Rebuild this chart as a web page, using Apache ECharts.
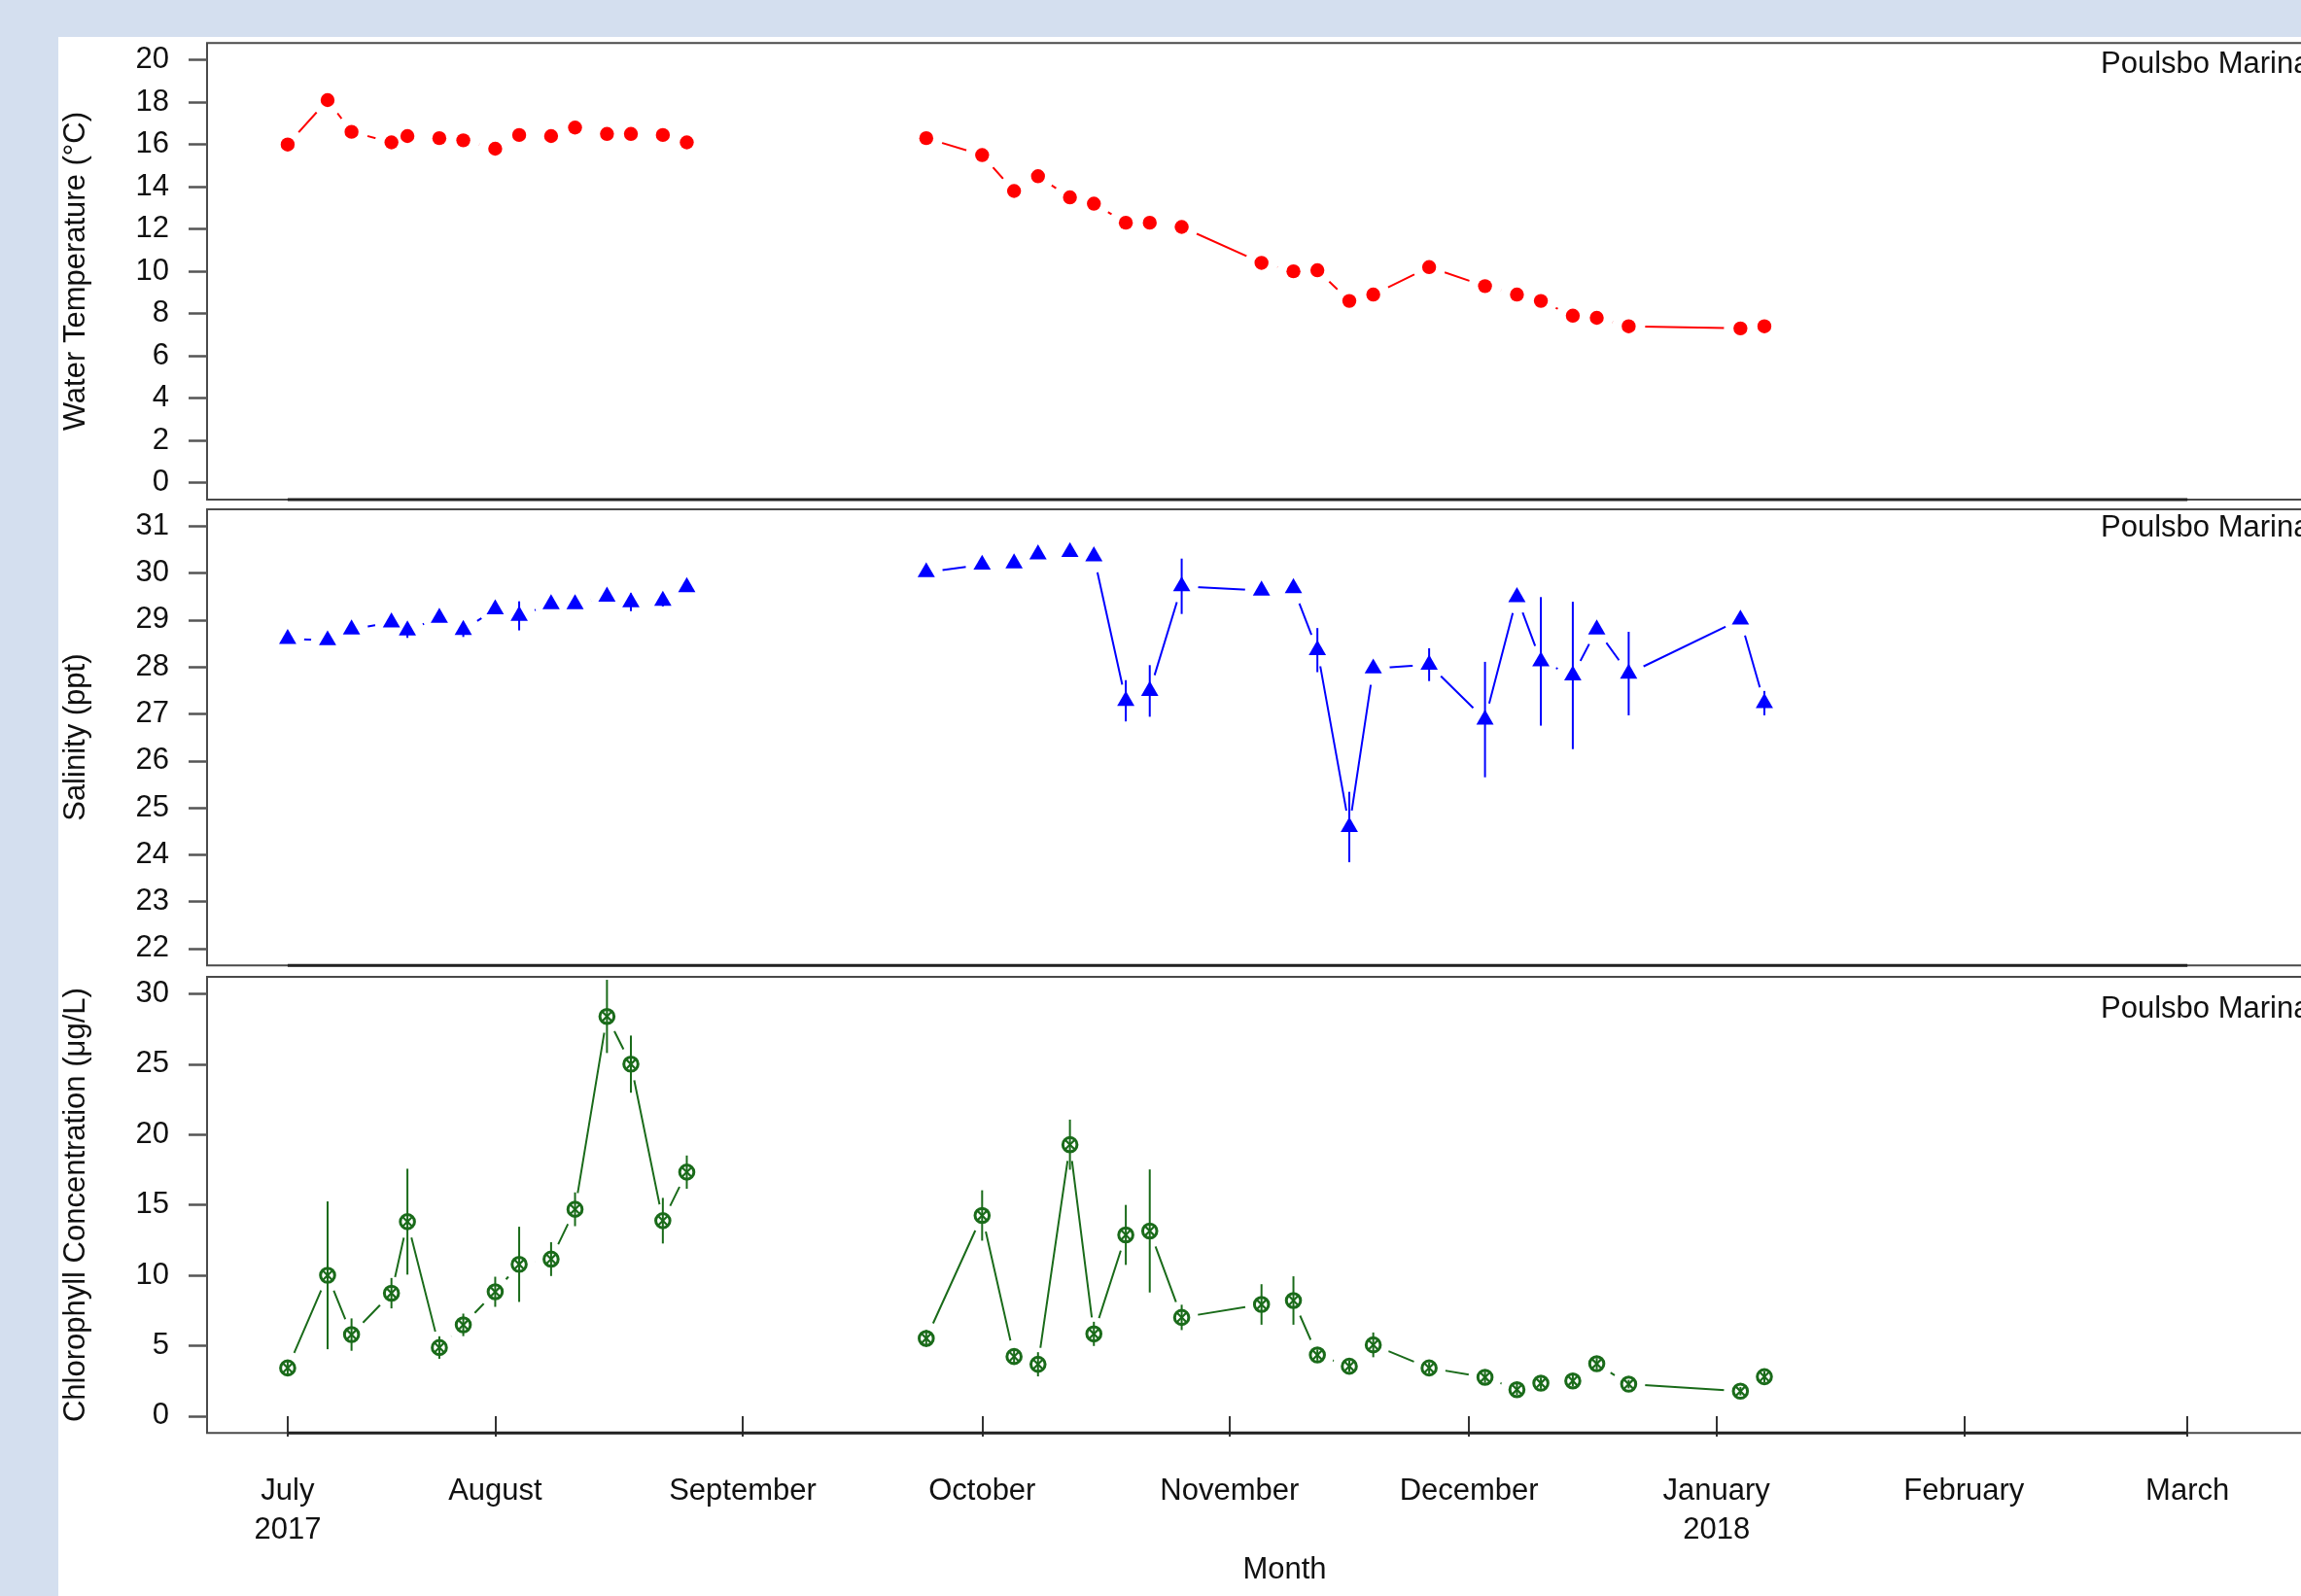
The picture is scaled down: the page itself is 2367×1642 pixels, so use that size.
<!DOCTYPE html>
<html>
<head>
<meta charset="utf-8">
<script src="https://cdn.jsdelivr.net/npm/echarts@6/dist/echarts.min.js"></script>
<style>
  html, body { margin: 0; padding: 0; width: 2367px; height: 1642px; overflow: hidden; background: #d4dfef; }
  #sheet { position: absolute; left: 60px; top: 38px; width: 2307px; height: 1604px; background: #fff; }
  #chart { position: absolute; left: 0; top: 0; width: 2367px; height: 1642px; }
</style>
</head>
<body>
<div id="sheet"></div>
<div id="chart"></div>
<script>
// sampling dates (both field seasons share the same dates for all three variables)
const sampleDates = [
  '2017-07-06', '2017-07-11', '2017-07-14', '2017-07-19', '2017-07-21', '2017-07-25', '2017-07-28',
  '2017-08-01', '2017-08-04', '2017-08-08', '2017-08-11', '2017-08-15', '2017-08-18', '2017-08-22', '2017-08-25',
  '2017-09-24', '2017-10-01', '2017-10-05', '2017-10-08', '2017-10-12', '2017-10-15', '2017-10-19', '2017-10-22',
  '2017-10-26', '2017-11-05', '2017-11-09', '2017-11-12', '2017-11-16', '2017-11-19', '2017-11-26', '2017-12-03',
  '2017-12-07', '2017-12-10', '2017-12-14', '2017-12-17', '2017-12-21', '2018-01-04', '2018-01-07'
];

const temperature = [
  16.0, 18.1, 16.6, 16.1, 16.4, 16.3, 16.2, 15.8, 16.45, 16.4, 16.8, 16.5, 16.5, 16.45, 16.1,
  16.3, 15.5, 13.8, 14.5, 13.5, 13.2, 12.3, 12.3, 12.1, 10.4, 10.0, 10.05, 8.6, 8.9, 10.2,
  9.3, 8.9, 8.6, 7.9, 7.8, 7.4, 7.3, 7.4
];

const salinity = [
  28.6, 28.57, 28.8, 28.95, 28.78, 29.05, 28.79, 29.23, 29.09, 29.34, 29.34, 29.5, 29.38, 29.41, 29.7,
  30.02, 30.18, 30.21, 30.4, 30.45, 30.36, 27.28, 27.49, 29.72, 29.63, 29.68, 28.36, 24.59, 27.97, 28.05,
  26.88, 29.49, 28.12, 27.82, 28.8, 27.86, 29.01, 27.23
];
const salinitySd = [
  0, 0, 0, 0, 0.16, 0, 0.15, 0, 0.31, 0, 0, 0, 0.19, 0.12, 0,
  0, 0, 0, 0, 0, 0, 0.44, 0.55, 0.59, 0, 0, 0.47, 0.75, 0, 0.35,
  1.23, 0, 1.37, 1.57, 0, 0.89, 0, 0.26
];

const chlorophyll = [
  3.42, 10.0, 5.79, 8.73, 13.81, 4.87, 6.48, 8.83, 10.78, 11.15, 14.69, 28.39, 25.0, 13.88, 17.33,
  5.52, 14.25, 4.23, 3.68, 19.28, 5.84, 12.87, 13.15, 7.01, 7.93, 8.21, 4.34, 3.54, 5.06, 3.42,
  2.76, 1.88, 2.34, 2.5, 3.72, 2.27, 1.77, 2.8
];
const chlorophyllSd = [
  0.5, 5.25, 1.15, 1.08, 3.76, 0.8, 0.8, 1.07, 2.67, 1.2, 1.2, 2.6, 2.03, 1.62, 1.18,
  0.6, 1.79, 0.5, 0.86, 1.78, 0.86, 2.13, 4.37, 0.9, 1.44, 1.72, 0.4, 0.4, 0.88, 0.4,
  0.4, 0.4, 0.4, 0.4, 0.4, 0.3, 0.3, 0.4
];

const monthTickDates = ['2017-07-06', '2017-08-01', '2017-09-01', '2017-10-01', '2017-11-01',
  '2017-12-01', '2018-01-01', '2018-02-01', '2018-03-01'];
const monthTickLabels = ['July\n2017', 'August', 'September', 'October', 'November',
  'December', 'January\n2018', 'February', 'March'];

const temperatureTicks = [0, 2, 4, 6, 8, 10, 12, 14, 16, 18, 20];
const salinityTicks = [22, 23, 24, 25, 26, 27, 28, 29, 30, 31];
const chlorophyllTicks = [0, 5, 10, 15, 20, 25, 30];

const siteName = 'Poulsbo Marina';

const fontFamily = '"Liberation Sans", Arial, Helvetica, sans-serif';
const DAY = 86400000;
const toTime = d => Date.parse(d + 'T00:00:00Z');
const origin = toTime('2017-07-01');
const xMin = origin - 5.1 * DAY;
const xMax = origin + 264.9 * DAY;
const monthTicks = monthTickDates.map(toTime);

// line data with a break across the September sampling gap
const lineData = values => {
  const out = [];
  values.forEach((v, i) => {
    const t = toTime(sampleDates[i]);
    if (i > 0 && t - toTime(sampleDates[i - 1]) > 20 * DAY) out.push([t - DAY, '-']);
    out.push([t, v]);
  });
  return out;
};
const pointData = (values, sd) => values.map((v, i) => [toTime(sampleDates[i]), v, sd ? sd[i] : 0]);

const panels = [
  { top: 44.3, height: 469.7, yMin: -0.8, yMax: 20.8, ticks: temperatureTicks,
    name: 'Water Temperature (°C)', color: '#ff0000', marker: 'circle',
    values: temperature, sd: null, labelY: 66.5 },
  { top: 524, height: 469.3, yMin: 21.64, yMax: 31.36, ticks: salinityTicks,
    name: 'Salinity (ppt)', color: '#0000ff', marker: 'triangle',
    values: salinity, sd: salinitySd, labelY: 543.8 },
  { top: 1005, height: 469.3, yMin: -1.2, yMax: 31.2, ticks: chlorophyllTicks,
    name: 'Chlorophyll Concentration (μg/L)', color: '#1a6b1a', marker: 'crossCircle',
    values: chlorophyll, sd: chlorophyllSd, labelY: 1038.8 }
];

const drawMarker = (kind, c, color) => {
  const [x, y] = c;
  if (kind === 'circle') {
    return { type: 'circle', shape: { cx: x, cy: y, r: 7.2 }, style: { fill: color } };
  }
  if (kind === 'triangle') {
    const r = 10.3, xc = r * 0.866;
    return { type: 'polygon', shape: { points: [[x, y - r], [x + xc, y + 0.5 * r], [x - xc, y + 0.5 * r]] },
      style: { fill: color } };
  }
  const r = 7.3, d = r * 0.707;
  return { type: 'group', children: [
    { type: 'circle', shape: { cx: x, cy: y, r: r }, style: { fill: 'none', stroke: color, lineWidth: 3 } },
    { type: 'line', shape: { x1: x - d, y1: y - d, x2: x + d, y2: y + d }, style: { stroke: color, lineWidth: 2.2 } },
    { type: 'line', shape: { x1: x + d, y1: y - d, x2: x - d, y2: y + d }, style: { stroke: color, lineWidth: 2.2 } }
  ] };
};

const makeRenderItem = panel => (params, api) => {
  const x = api.value(0), y = api.value(1), e = api.value(2);
  const c = api.coord([x, y]);
  const children = [];
  if (e > 0) {
    const hi = api.coord([x, y + e]);
    const lo = api.coord([x, y - e]);
    children.push({ type: 'line', shape: { x1: c[0], y1: hi[1], x2: c[0], y2: lo[1] },
      style: { stroke: panel.color, lineWidth: 2 } });
  }
  children.push(drawMarker(panel.marker, c, panel.color));
  return { type: 'group', children };
};

const chart = echarts.init(document.getElementById('chart'));
const textStyle = { fontSize: 31, color: '#111', fontFamily };

chart.setOption({
  animation: false,
  backgroundColor: 'transparent',
  grid: panels.map(p => ({
    left: 213, top: p.top, width: 2217, height: p.height,
    outerBoundsMode: 'none', containLabel: false,
    show: true, borderColor: '#4a4a4a', borderWidth: 2, backgroundColor: 'transparent'
  })),
  xAxis: panels.map((p, i) => ({
    gridIndex: i, type: 'value', min: xMin, max: xMax,
    axisLine: { show: false }, splitLine: { show: false },
    axisTick: { show: i === 2, customValues: monthTicks, length: 21, lineStyle: { color: '#333', width: 2 } },
    axisLabel: {
      show: i === 2, customValues: monthTicks, margin: 40, lineHeight: 40, ...textStyle,
      formatter: v => { const k = monthTicks.indexOf(v); return k >= 0 ? monthTickLabels[k] : ''; }
    },
    name: i === 2 ? 'Month' : '', nameLocation: 'middle', nameGap: 116,
    nameTextStyle: { ...textStyle, lineHeight: 40 }
  })),
  yAxis: panels.map((p, i) => ({
    gridIndex: i, type: 'value', min: p.yMin, max: p.yMax,
    axisLine: { show: false }, splitLine: { show: false },
    axisTick: { show: true, customValues: p.ticks, length: 19, lineStyle: { color: '#555', width: 2.5 } },
    axisLabel: { customValues: p.ticks, margin: 39, padding: [8, 0, 0, 0], ...textStyle },
    name: p.name, nameLocation: 'middle', nameRotate: 90, nameGap: 115,
    nameTextStyle: { ...textStyle, lineHeight: 40 }
  })),
  graphic: panels.map(p => ({
    type: 'text', x: 2161, y: p.labelY, silent: true,
    style: { text: siteName, font: `31px ${fontFamily}`, fill: '#111', verticalAlign: 'middle' }
  })),
  series: panels.flatMap((p, i) => [
    {
      type: 'line', xAxisIndex: i, yAxisIndex: i, data: lineData(p.values),
      symbol: 'circle', symbolSize: 34, showSymbol: true, showAllSymbol: true,
      itemStyle: { color: '#ffffff' }, lineStyle: { color: p.color, width: 2 },
      emphasis: { disabled: true }, silent: true, z: 2
    },
    {
      type: 'line', xAxisIndex: i, yAxisIndex: i, symbol: 'none', clip: false, silent: true, z: 4,
      data: [[monthTicks[0], p.yMin], [monthTicks[monthTicks.length - 1], p.yMin]],
      lineStyle: { color: '#222', width: 3 }
    },
    {
      type: 'custom', xAxisIndex: i, yAxisIndex: i, data: pointData(p.values, p.sd),
      renderItem: makeRenderItem(p), silent: true, z: 3
    }
  ])
});
</script>
</body>
</html>
